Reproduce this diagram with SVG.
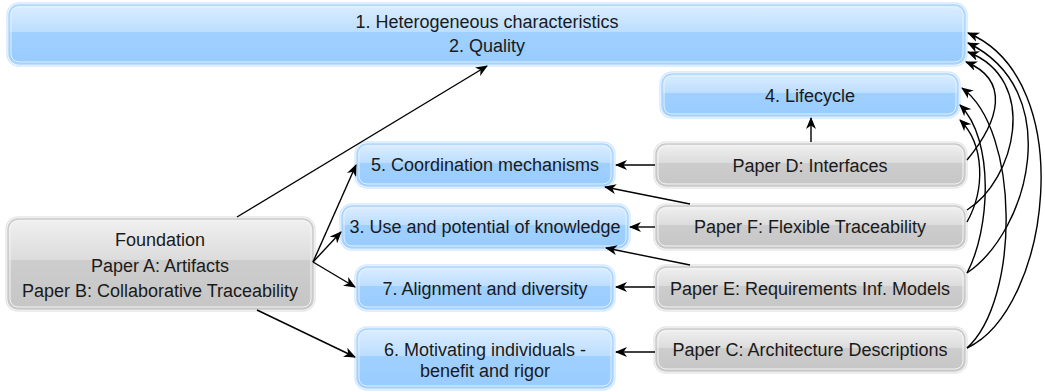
<svg xmlns="http://www.w3.org/2000/svg" width="1045" height="392" viewBox="0 0 1045 392">
<style>
  text { font-family: "Liberation Sans", Arial, sans-serif; font-size: 18px; fill: #1a1a1a; text-anchor: middle; }
  .blue .bo { fill: url(#gBlue); stroke: #a9d4fd; stroke-width: 1.5; }
  .blue .bi { fill: none; stroke: #e3f1ff; stroke-width: 1; }
  .blue .bg { fill: none; stroke: #d6eaff; stroke-width: 1.5; }
  .gray .bo { fill: url(#gGray); stroke: #c9c9c9; stroke-width: 1.5; }
  .gray .bi { fill: none; stroke: #f4f4f4; stroke-width: 1; }
  .gray .bg { fill: none; stroke: #e8e8e8; stroke-width: 1.5; }
  .conn path { fill: none; stroke: #000; stroke-width: 1.4; marker-end: url(#arr); }
</style>
<defs>
  <linearGradient id="gBlue" x1="0" y1="0" x2="0" y2="1">
    <stop offset="0" stop-color="#dcedff"/>
    <stop offset="0.45" stop-color="#bcdeff"/>
    <stop offset="0.46" stop-color="#9fd0ff"/>
    <stop offset="1" stop-color="#99ccff"/>
  </linearGradient>
  <linearGradient id="gGray" x1="0" y1="0" x2="0" y2="1">
    <stop offset="0" stop-color="#f0f0f0"/>
    <stop offset="0.45" stop-color="#dcdcdc"/>
    <stop offset="0.46" stop-color="#cdcdcd"/>
    <stop offset="1" stop-color="#c6c6c6"/>
  </linearGradient>
  <marker id="arr" viewBox="0 0 12 10" refX="11" refY="5" markerWidth="12" markerHeight="10" markerUnits="userSpaceOnUse" orient="auto">
    <path d="M0,0 L12,5 L0,10 L3.5,5 Z" fill="#000"/>
  </marker>
</defs>
<rect width="1045" height="392" fill="#fff"/>

<g id="n-top" class="node blue">
  <rect class="bg" x="7" y="3" width="960" height="63" rx="12"/>
  <rect class="bo" x="9" y="5" width="956" height="59" rx="10"/>
  <rect class="bi" x="11" y="7" width="952" height="55" rx="8"/>
  <text x="487" y="28">1. Heterogeneous characteristics</text>
  <text x="487" y="52">2. Quality</text>
</g>
<g id="n-lifecycle" class="node blue">
  <rect class="bg" x="660" y="72" width="300" height="46" rx="12"/>
  <rect class="bo" x="662" y="74" width="296" height="42" rx="10"/>
  <rect class="bi" x="664" y="76" width="292" height="38" rx="8"/>
  <text x="810" y="102">4. Lifecycle</text>
</g>
<g id="n-coord" class="node blue">
  <rect class="bg" x="355" y="142" width="260" height="46" rx="12"/>
  <rect class="bo" x="357" y="144" width="256" height="42" rx="10"/>
  <rect class="bi" x="359" y="146" width="252" height="38" rx="8"/>
  <text x="485" y="171">5. Coordination mechanisms</text>
</g>
<g id="n-use" class="node blue">
  <rect class="bg" x="340" y="204" width="290" height="46" rx="12"/>
  <rect class="bo" x="342" y="206" width="286" height="42" rx="10"/>
  <rect class="bi" x="344" y="208" width="282" height="38" rx="8"/>
  <text x="485" y="233">3. Use and potential of knowledge</text>
</g>
<g id="n-align" class="node blue">
  <rect class="bg" x="355" y="265" width="260" height="46" rx="12"/>
  <rect class="bo" x="357" y="267" width="256" height="42" rx="10"/>
  <rect class="bi" x="359" y="269" width="252" height="38" rx="8"/>
  <text x="485" y="295">7. Alignment and diversity</text>
</g>
<g id="n-motiv" class="node blue">
  <rect class="bg" x="355" y="327" width="260" height="63" rx="12"/>
  <rect class="bo" x="357" y="329" width="256" height="59" rx="10"/>
  <rect class="bi" x="359" y="331" width="252" height="55" rx="8"/>
  <text x="485" y="356">6. Motivating individuals -</text>
  <text x="485" y="377">benefit and rigor</text>
</g>
<g id="n-foundation" class="node gray">
  <rect class="bg" x="6" y="217" width="309" height="94" rx="12"/>
  <rect class="bo" x="8" y="219" width="305" height="90" rx="10"/>
  <rect class="bi" x="10" y="221" width="301" height="86" rx="8"/>
  <text x="160" y="246">Foundation</text>
  <text x="160" y="272">Paper A: Artifacts</text>
  <text x="160" y="297">Paper B: Collaborative Traceability</text>
</g>
<g id="n-paperD" class="node gray">
  <rect class="bg" x="654" y="142" width="313" height="46" rx="12"/>
  <rect class="bo" x="656" y="144" width="309" height="42" rx="10"/>
  <rect class="bi" x="658" y="146" width="305" height="38" rx="8"/>
  <text x="810" y="172">Paper D: Interfaces</text>
</g>
<g id="n-paperF" class="node gray">
  <rect class="bg" x="654" y="204" width="313" height="46" rx="12"/>
  <rect class="bo" x="656" y="206" width="309" height="42" rx="10"/>
  <rect class="bi" x="658" y="208" width="305" height="38" rx="8"/>
  <text x="810" y="233">Paper F: Flexible Traceability</text>
</g>
<g id="n-paperE" class="node gray">
  <rect class="bg" x="654" y="265" width="313" height="46" rx="12"/>
  <rect class="bo" x="656" y="267" width="309" height="42" rx="10"/>
  <rect class="bi" x="658" y="269" width="305" height="38" rx="8"/>
  <text x="810" y="295">Paper E: Requirements Inf. Models</text>
</g>
<g id="n-paperC" class="node gray">
  <rect class="bg" x="654" y="327" width="313" height="46" rx="12"/>
  <rect class="bo" x="656" y="329" width="309" height="42" rx="10"/>
  <rect class="bi" x="658" y="331" width="305" height="38" rx="8"/>
  <text x="810" y="356">Paper C: Architecture Descriptions</text>
</g>

<g id="connectors" class="conn">
  <path d="M237,217 L487,66"/>
  <path d="M313,262 L356,165"/>
  <path d="M313,262 L341,232"/>
  <path d="M313,262 L355,287"/>
  <path d="M257,310 L355,357"/>
  <path d="M655,165 L616,165"/>
  <path d="M655,227 L630,227"/>
  <path d="M690,204 L605,187"/>
  <path d="M690,265 L606,248"/>
  <path d="M655,287 L616,287"/>
  <path d="M655,352 L616,352"/>
  <path d="M811,142 L811,118"/>
  <path d="M967,348 C1050,310 1080,80 968,33"/>
  <path d="M967,273 C1030,230 1065,90 968,43"/>
  <path d="M967,210 C1015,180 1040,80 968,52"/>
  <path d="M967,160 C1000,120 1010,80 966,62"/>
  <path d="M967,348 C1020,300 1020,130 962,88"/>
  <path d="M967,273 C990,230 995,140 960,105"/>
  <path d="M967,222 C985,190 985,145 960,120"/>
</g>
</svg>
